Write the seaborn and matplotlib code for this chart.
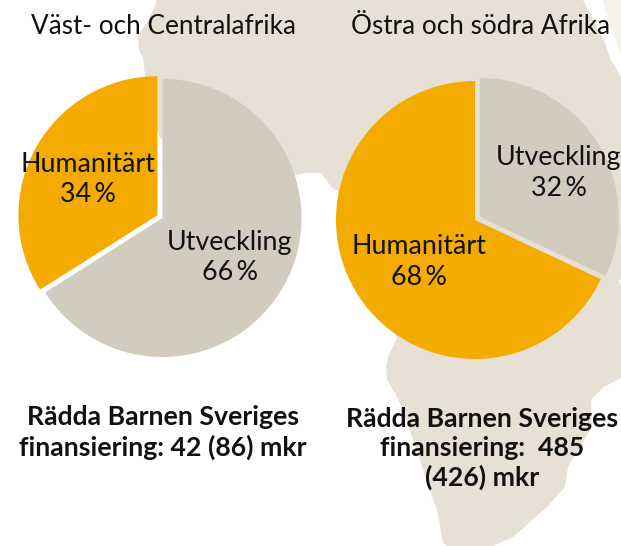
import matplotlib
matplotlib.use('Agg')
import matplotlib.pyplot as plt
import seaborn as sns

# Share of funding per region
labels_west = ['Utveckling', 'Humanitärt']
values_west = [66, 34]
labels_east = ['Utveckling', 'Humanitärt']
values_east = [32, 68]

title_west = 'Väst- och Centralafrika'
title_east = 'Östra och södra Afrika'
note_west = 'Rädda Barnen Sveriges\nfinansiering: 42 (86) mkr'
note_east = 'Rädda Barnen Sveriges\nfinansiering:  485\n(426) mkr'

# Map silhouette behind the pies, traced in image pixels
map_outline = [
    (157, 0), (153, 10), (147, 23), (138, 35), (139, 51), (143, 57), (145, 77),
    (150, 110), (160, 138), (220, 160), (295, 175), (307, 173), (320, 173),
    (325, 178), (332, 188), (338, 191), (370, 260), (397, 338), (388, 357),
    (386, 367), (387, 380), (395, 393), (403, 410), (412, 437), (420, 460),
    (427, 483), (437, 510), (443, 543), (447, 546), (493, 546), (513, 537),
    (547, 507), (565, 487), (568, 467), (592, 427), (591, 400), (604, 387),
    (621, 378), (621, 285), (619, 282), (621, 279), (621, 77), (611, 60),
    (604, 40), (583, 0),
]
# Faint land in the top right corner
arabia_outline = [(603, 0), (608, 20), (621, 55), (621, 0)]

sns.set_theme(style='white')
plt.rcParams['font.family'] = ['Lato', 'DejaVu Sans']

grey, gold, land, pale = '#D2CCBF', '#F4AB00', '#E6E1D4', '#F4F2EB'
H = 546
no_edge = {'linewidth': 0}

fig = plt.figure(figsize=(6.21, 5.46), dpi=100)
ax = fig.add_axes([0, 0, 1, 1])

ax.fill([p[0] for p in map_outline], [H - p[1] for p in map_outline], color=land, lw=0)
ax.fill([p[0] for p in arabia_outline], [H - p[1] for p in arabia_outline], color=pale, lw=0)

# West: gold slice pulled out, grey slice stays at the centre
ax.pie(values_west, colors=[grey, gold], startangle=90, counterclock=False,
       explode=[0, 5.8], center=(162.5, H - 218), radius=139, frame=True, wedgeprops=no_edge)
# East: grey slice pulled out
ax.pie(values_east, colors=[grey, gold], startangle=90, counterclock=False,
       explode=[5.8, 0], center=(475, H - 220), radius=139, frame=True, wedgeprops=no_edge)

ax.set_xlim(0, 621)
ax.set_ylim(0, H)
ax.set_aspect('auto')
ax.axis('off')

tc = '#111111'
ax.text(163.5, H - 27, title_west, ha='center', va='center', fontsize=18.8, color=tc)
ax.text(481, H - 27, title_east, ha='center', va='center', fontsize=18.8, color=tc)

pie_text = {'ha': 'center', 'va': 'center', 'fontsize': 19.3, 'color': tc, 'linespacing': 1.27}
ax.text(88, H - 179.5, f'{labels_west[1]}\n{values_west[1]}\u2009%', **pie_text)
ax.text(229.5, H - 257.5, f'{labels_west[0]}\n{values_west[0]}\u2009%', **pie_text)
ax.text(558.5, H - 173, f'{labels_east[0]}\n{values_east[0]}\u2009%', **pie_text)
ax.text(418.5, H - 262, f'{labels_east[1]}\n{values_east[1]}\u2009%', **pie_text)

note_text = {'ha': 'center', 'va': 'center', 'fontsize': 19.2, 'fontweight': 'bold',
             'color': tc, 'linespacing': 1.25}
ax.text(163, H - 432.5, note_west, **note_text)
ax.text(482, H - 448.5, note_east, **note_text)

fig.savefig('out.png', dpi=100)
